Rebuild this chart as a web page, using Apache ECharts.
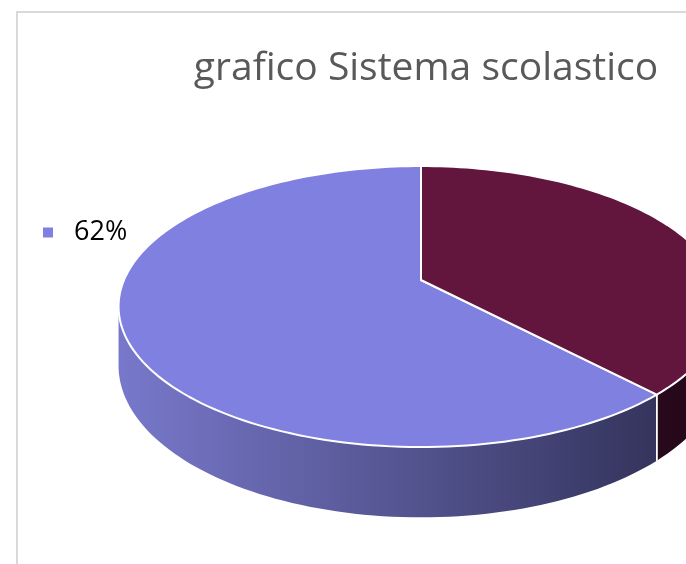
<!DOCTYPE html>
<html>
<head>
<meta charset="utf-8">
<script src="https://cdn.jsdelivr.net/npm/echarts@6/dist/echarts.min.js"></script>
<style>
  html, body { margin: 0; padding: 0; background: #fff; }
  #show { width: 686px; height: 564px; }
</style>
</head>
<body>
<div id="show"></div>
<script>
var myChart = echarts.init(document.getElementById('show'));

// data
var categories = ['62%', '38%'];
var values = [62, 38];

// colours: top face, side light end, side dark end
var topColors = ['#8080e1', '#62153d'];
var sideLight = ['#7878cb', '#5a1438'];
var sideDark = ['#303056', '#26081a'];

// fake 3d projection of the pie disk
var CX = 421, CY = 280;   // pie centre on screen
var SX = 297, SY = 135.5; // radius along x / depth
var P = 0.189;            // perspective
var H = 57;               // thickness
var VIS0 = Math.acos(-P), VIS1 = 2 * Math.PI - VIS0;

var total = values.reduce(function (a, b) { return a + b; }, 0);

function proj(phi, depth) {
    var u = Math.sin(phi), v = -Math.cos(phi);
    var w = 1 - P * v;
    return [CX + SX * u / w, CY + (SY * v + H * depth) / w];
}

function arc(a0, a1, depth) {
    var pts = [];
    var n = Math.max(2, Math.ceil(Math.abs(a1 - a0) / (Math.PI / 120)));
    for (var k = 0; k <= n; k++) {
        pts.push(proj(a0 + (a1 - a0) * k / n, depth));
    }
    return pts;
}

function renderSlice(params, api) {
    var i = params.seriesIndex;
    var before = api.value(0), val = api.value(1);
    // slices run counter-clockwise from 12 o'clock
    var hi = 2 * Math.PI - before / total * 2 * Math.PI;
    var lo = 2 * Math.PI - (before + val) / total * 2 * Math.PI;
    var children = [];

    var s0 = Math.max(lo, VIS0), s1 = Math.min(hi, VIS1);
    if (s0 < s1) {
        var side = arc(s0, s1, 0).concat(arc(s1, s0, 1));
        children.push({
            type: 'polygon',
            z2: 1,
            shape: { points: side },
            style: {
                fill: {
                    type: 'linear', x: 120, y: 0, x2: 690, y2: 0, global: true,
                    colorStops: [
                        { offset: 0, color: sideLight[i] },
                        { offset: 1, color: sideDark[i] }
                    ]
                }
            }
        });
    }
    [lo, hi].forEach(function (a) {
        if (a > VIS0 && a < VIS1) {
            var p0 = proj(a, 0), p1 = proj(a, 1);
            children.push({
                type: 'line',
                z2: 2,
                shape: { x1: p0[0], y1: p0[1], x2: p1[0], y2: p1[1] },
                style: { stroke: '#fff', lineWidth: 1.5 }
            });
        }
    });
    children.push({
        type: 'polygon',
        z2: 5,
        shape: { points: [[CX, CY]].concat(arc(lo, hi, 0)) },
        style: { fill: topColors[i], stroke: '#fff', lineWidth: 2, lineJoin: 'round' }
    });
    return { type: 'group', children: children };
}

var series = [];
var acc = 0;
categories.forEach(function (name, i) {
    series.push({
        type: 'custom',
        name: name,
        coordinateSystem: 'none',
        itemStyle: { color: topColors[i] },
        renderItem: renderSlice,
        data: [[acc, values[i]]],
        silent: true
    });
    acc += values[i];
});

myChart.setOption({
    animation: false,
    title: {
        text: 'grafico Sistema scolastico',
        left: 421,
        textAlign: 'center',
        top: 44,
        textStyle: {
            fontFamily: 'Open Sans',
            fontWeight: 'normal',
            fontSize: 39,
            color: '#595959'
        }
    },
    legend: {
        data: [categories[0]],
        left: 38,
        top: 214,
        orient: 'vertical',
        icon: 'rect',
        itemWidth: 10,
        itemHeight: 10,
        textStyle: {
            fontFamily: 'Open Sans',
            fontSize: 27,
            color: '#000',
            padding: [0, 0, 0, 16]
        }
    },
    graphic: [{
        type: 'rect',
        silent: true,
        shape: { x: 17, y: 12, width: 800, height: 700 },
        style: { fill: null, stroke: '#d9d9d9', lineWidth: 2 }
    }],
    series: series
});
</script>
</body>
</html>
